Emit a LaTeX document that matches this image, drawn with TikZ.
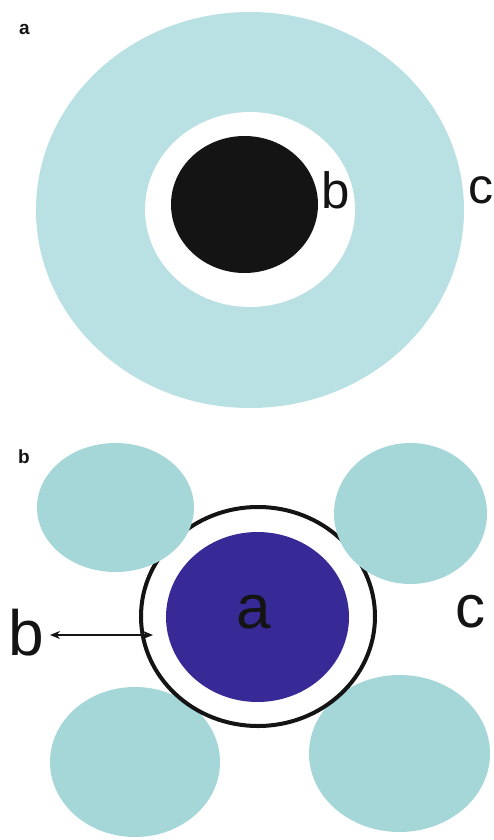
\documentclass[tikz,border=0pt]{standalone}
\usepackage{fontspec}
\setmainfont{Liberation Sans}
\usetikzlibrary{arrows.meta}
\definecolor{cyanA}{RGB}{185,224,227}
\definecolor{cyanB}{RGB}{165,214,216}
\definecolor{nucleus}{RGB}{56,42,150}
\definecolor{ink}{RGB}{20,20,20}
\begin{document}
\begin{tikzpicture}[x=1pt,y=-1pt,
  lbl/.style={inner sep=0pt, anchor=base west, text=ink},
  panel/.style={lbl, font=\fontsize{19}{19}\selectfont\bfseries},
  big/.style={lbl, font=\fontsize{#1}{#1}\selectfont},
  membrane/.style={draw=ink, line width=4pt, fill=white}]
\useasboundingbox (0,0) rectangle (493,840);
% ---------- panel a ----------
\fill[cyanA] (250,210) ellipse [x radius=214, y radius=198];
\fill[white] (250,209.5) ellipse [x radius=105, y radius=97.5];
\fill[ink] (244.5,204.5) ellipse [x radius=73.5, y radius=68.5];
\node[panel] (pa) at (19,35) {a};
\node[big=51] (ab) at (321,208) {b};
\node[big=50] (ac) at (468,203) {c};
% ---------- panel b ----------
\fill[cyanB] (135,762) ellipse [x radius=85, y radius=75];
\fill[cyanB] (399.5,753.5) ellipse [x radius=90.5, y radius=78.5];
\draw[membrane] (258,616.5) ellipse [x radius=117, y radius=109.5];
\fill[cyanB] (115.5,507.5) ellipse [x radius=78.5, y radius=64.5];
\fill[cyanB] (410.5,513.5) ellipse [x radius=76.5, y radius=70.5];
\fill[nucleus] (257.5,617) ellipse [x radius=91.5, y radius=85];
\node[panel] (pb) at (18,463) {b};
\node[big=62] (ba) at (236,628) {a};
\node[big=60] (bc) at (455,627) {c};
\node[big=64] (bb) at (8,655) {b};
\coordinate (arrL) at (50,635);
\coordinate (arrR) at (153,635);
\draw[ink, line width=1.6pt, <->, >={Stealth[length=10pt,width=8pt]}] (arrL) -- (arrR);
\end{tikzpicture}
\end{document}
